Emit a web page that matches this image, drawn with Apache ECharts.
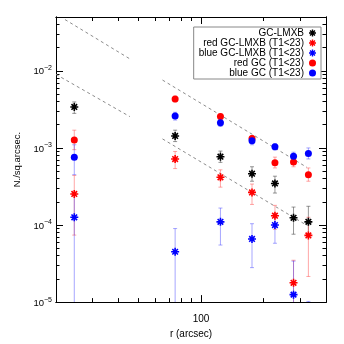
<!DOCTYPE html>
<html>
<head>
<meta charset="utf-8">
<script src="https://cdn.jsdelivr.net/npm/echarts@6/dist/echarts.min.js"></script>
<style>html,body{margin:0;padding:0;background:#fff}#c{width:344px;height:344px}</style>
</head>
<body>
<div id="c"></div>
<script>
// radius bins (arcsec)
const rVals = [24.5, 75, 124, 176, 227, 279, 329];

// GC-LMXB (all)
const gcLmxb   = [3.4e-3, 1.43e-3, 7.7e-4, 4.63e-4, 3.46e-4, 1.24e-4, 1.10e-4];
const gcLmxbHi = [3.95e-3, 1.7e-3, 9.1e-4, 5.7e-4, 4.3e-4, 1.71e-4, 1.75e-4];
const gcLmxbLo = [2.81e-3, 1.21e-3, 6.5e-4, 3.7e-4, 2.6e-4, 7.6e-5, 7.7e-5];

// red GC-LMXB (T1<23)
const redLmxb   = [2.53e-4, 7.18e-4, 4.16e-4, 2.65e-4, 1.32e-4, 1.78e-5, 7.33e-5];
const redLmxbHi = [4.4e-4, 9.0e-4, 5.2e-4, 3.4e-4, 1.8e-4, 3.49e-5, 1.26e-4];
const redLmxbLo = [7.4e-5, 5.4e-4, 3.1e-4, 1.85e-4, 8.8e-5, 1e-6, 2.15e-5];

// blue GC-LMXB (T1<23)
const blueLmxb   = [1.26e-4, 4.5e-5, 1.10e-4, 6.6e-5, 1.0e-4, 1.25e-5, 4e-6];
const blueLmxbHi = [2.5e-4, 9.0e-5, 1.66e-4, 1.04e-4, 1.4e-4, 3.4e-5, 1.02e-5];
const blueLmxbLo = [1e-6, 1e-6, 5.5e-5, 2.8e-5, 5.8e-5, 1e-6, 1e-6];

// red GC (T1<23)
const redGc   = [1.27e-3, 4.32e-3, 2.55e-3, 1.33e-3, 6.45e-4, 6.58e-4, 4.5e-4];
const redGcHi = [1.7e-3, 4.7e-3, 2.75e-3, 1.45e-3, 7.6e-4, 7.6e-4, 5.5e-4];
const redGcLo = [9.5e-4, 3.95e-3, 2.35e-3, 1.2e-3, 5.5e-4, 5.7e-4, 3.7e-4];

// blue GC (T1<23)
const blueGc   = [7.6e-4, 2.6e-3, 2.12e-3, 1.24e-3, 1.04e-3, 7.83e-4, 8.48e-4];
const blueGcHi = [1.1e-3, 2.9e-3, 2.35e-3, 1.4e-3, 1.13e-3, 8.8e-4, 1.0e-3];
const blueGcLo = [4.5e-4, 2.3e-3, 1.9e-3, 1.1e-3, 9.4e-4, 6.9e-4, 7.2e-4];

// dashed reference power laws (two segments each)
const upperSegA = [[22.1, 0.0463], [45.4, 0.0143]];
const upperSegB = [[65.2, 7.6e-3], [323.6, 5.6e-4]];
const lowerSegA = [[20, 9.0e-3], [45.4, 2.55e-3]];
const lowerSegB = [[65.2, 1.31e-3], [323.6, 9.9e-5]];

// axis ticks
const xMajor = [100];
const xMinor = [20, 30, 40, 50, 60, 70, 80, 90, 200, 300, 400];
const yMajor = [1e-5, 1e-4, 1e-3, 1e-2];
const yMinor = [];
[1e-5, 1e-4, 1e-3, 1e-2].forEach(d => { for (let k = 2; k <= 9; k++) { const v = +(k * d).toPrecision(3); if (v <= 0.05) yMinor.push(v); } });

const legendNames = ['GC-LMXB', 'red GC-LMXB (T1<23)', 'blue GC-LMXB (T1<23)', 'red GC (T1<23)', 'blue GC (T1<23)'];

const STAR = 'path://M-1,-5 L1,-5 L1,5 L-1,5 Z M-5,-1 L5,-1 L5,1 L-5,1 Z M-4.2,-2.8 L-2.8,-4.2 L4.2,2.8 L2.8,4.2 Z M-2.8,4.2 L-4.2,2.8 L2.8,-4.2 L4.2,-2.8 Z';
const FONT = 'Liberation Sans';

function pts(ys) { return rVals.map((r, i) => [r, ys[i]]); }
function errs(lo, hi) { return rVals.map((r, i) => [r, lo[i], hi[i]]); }

function errSeries(lo, hi, color) {
  return {
    type: 'custom', xAxisIndex: 0, yAxisIndex: 0, clip: true, silent: true, z: 2,
    encode: { x: 0, y: [1, 2] },
    data: errs(lo, hi),
    renderItem: function (params, api) {
      const x = api.value(0), l = api.value(1), h = api.value(2);
      const p1 = api.coord([x, h]);
      const p2 = api.coord([x, l]);
      const w = 2;
      const st = { stroke: color, lineWidth: 1 };
      return { type: 'group', children: [
        { type: 'line', shape: { x1: p1[0], y1: p1[1], x2: p2[0], y2: p2[1] }, style: st },
        { type: 'line', shape: { x1: p1[0] - w, y1: p1[1], x2: p1[0] + w, y2: p1[1] }, style: st },
        { type: 'line', shape: { x1: p2[0] - w, y1: p2[1], x2: p2[0] + w, y2: p2[1] }, style: st }
      ]};
    }
  };
}

function scat(name, ys, color, symbol, size) {
  return { name, type: 'scatter', xAxisIndex: 0, yAxisIndex: 0, data: pts(ys), symbol, symbolSize: size,
    itemStyle: { color, opacity: 1 }, z: 5, clip: true };
}

function dashed(data) {
  return { type: 'line', xAxisIndex: 0, yAxisIndex: 0, data, symbol: 'none', silent: true, z: 1,
    lineStyle: { color: '#8c8c8c', width: 1, type: [3, 3] } };
}

function xAx(pos, vals, len, showLabel, extra) {
  return Object.assign({
    type: 'log', logBase: 10, min: 20, max: 400, position: pos, gridIndex: 0,
    axisLine: { show: true, lineStyle: { color: '#000', width: 1 } },
    axisTick: { show: true, inside: true, length: len, customValues: vals, lineStyle: { color: '#000', width: 1 } },
    axisLabel: { show: showLabel, customValues: vals, color: '#000', fontFamily: FONT, fontSize: 10, margin: 12, formatter: v => String(Math.round(v)) },
    splitLine: { show: false }, minorTick: { show: false }
  }, extra || {});
}
function yAx(pos, vals, len, showLabel, extra) {
  return Object.assign({
    type: 'log', logBase: 10, min: 1e-5, max: 0.05, position: pos, gridIndex: 0,
    axisLine: { show: true, lineStyle: { color: '#000', width: 1 } },
    axisTick: { show: true, inside: true, length: len, customValues: vals, lineStyle: { color: '#000', width: 1 } },
    axisLabel: { show: showLabel, customValues: vals, color: '#000', fontFamily: FONT, margin: 4,
      formatter: v => '{b|10}{s|\u2212' + Math.abs(Math.round(Math.log10(v))) + '}',
      rich: { b: { fontSize: 9.5, fontFamily: FONT, color: '#000', lineHeight: 12, verticalAlign: 'bottom' },
              s: { fontSize: 7, fontFamily: FONT, color: '#000', lineHeight: 12, verticalAlign: 'top', padding: [0, 0, 4, 0] } } },
    splitLine: { show: false }, minorTick: { show: false }
  }, extra || {});
}

const option = {
  animation: false,
  backgroundColor: '#fff',
  grid: { left: 56, top: 17, right: 18, bottom: 36, containLabel: false },
  xAxis: [
    xAx('bottom', xMinor, 4, false),
    xAx('bottom', xMajor, 7, true, { name: 'r (arcsec)', nameLocation: 'middle', nameGap: 19,
      nameTextStyle: { fontFamily: FONT, fontSize: 10, color: '#000' } }),
    xAx('top', xMinor, 4, false),
    xAx('top', xMajor, 7, false)
  ],
  yAxis: [
    yAx('left', yMinor, 3.5, false),
    yAx('left', yMajor, 7, true, { name: 'N./sq.arcsec.', nameLocation: 'middle', nameGap: 30,
      nameTextStyle: { fontFamily: FONT, fontSize: 9.5, color: '#000' } }),
    yAx('right', yMinor, 3.5, false),
    yAx('right', yMajor, 7, false)
  ],
  legend: {
    data: legendNames,
    orient: 'vertical', align: 'right',
    right: 23, top: 27,
    backgroundColor: '#fff', borderColor: '#888', borderWidth: 1, borderRadius: 0,
    padding: [1, 5, 1, 5],
    itemWidth: 7, itemHeight: 7, itemGap: 0,
    textStyle: { fontFamily: FONT, fontSize: 10, color: '#000', lineHeight: 9 }
  },
  series: [
    dashed(upperSegA), dashed(upperSegB), dashed(lowerSegA), dashed(lowerSegB),
    errSeries(gcLmxbLo, gcLmxbHi, 'rgba(80,80,80,0.6)'),
    errSeries(redLmxbLo, redLmxbHi, 'rgba(255,60,60,0.45)'),
    errSeries(blueLmxbLo, blueLmxbHi, 'rgba(60,60,255,0.45)'),
    errSeries(redGcLo, redGcHi, 'rgba(255,60,60,0.45)'),
    errSeries(blueGcLo, blueGcHi, 'rgba(60,60,255,0.45)'),
    scat('GC-LMXB', gcLmxb, '#000', STAR, 8),
    scat('red GC-LMXB (T1<23)', redLmxb, '#ff0000', STAR, 8),
    scat('blue GC-LMXB (T1<23)', blueLmxb, '#0000ff', STAR, 8),
    scat('red GC (T1<23)', redGc, '#ff0000', 'circle', 7),
    scat('blue GC (T1<23)', blueGc, '#0000ff', 'circle', 7)
  ]
};

const chart = echarts.init(document.getElementById('c'), null, { renderer: 'canvas' });
chart.setOption(option);
</script>
</body>
</html>
